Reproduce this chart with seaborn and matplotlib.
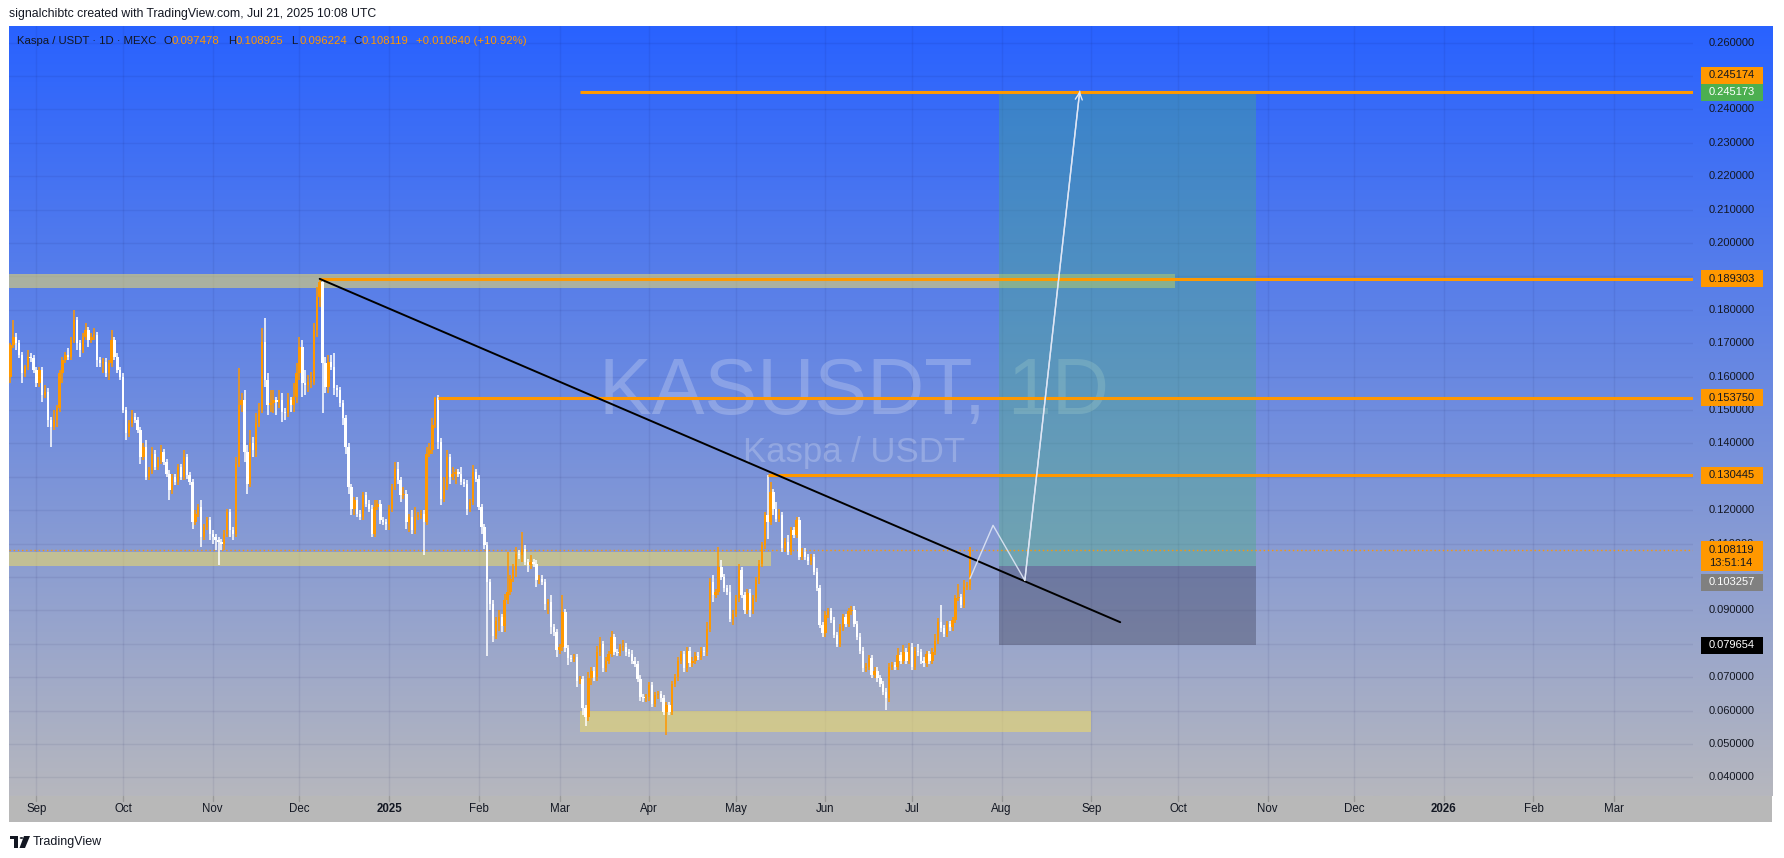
import numpy as np
import pandas as pd
import matplotlib
matplotlib.use("Agg")
import matplotlib.pyplot as plt
import matplotlib.dates as mdates
from matplotlib.patches import Rectangle, Polygon, Circle
import seaborn as sns


# Velas diarias KAS/USDT (MEXC), cierre por dia
start_day = "2024-08-23"
first_open = 0.1600

close_aug = [0.1695, 0.1720, 0.1700, 0.1665, 0.1610, 0.1630, 0.1660, 0.1655, 0.1620]
close_sep = [0.1580, 0.1620, 0.1545, 0.1555, 0.1470, 0.1450, 0.1470, 0.1505, 0.1610, 0.1650,
             0.1665, 0.1660, 0.1710, 0.1770, 0.1700, 0.1680, 0.1720, 0.1740, 0.1710, 0.1720,
             0.1725, 0.1650, 0.1640, 0.1645, 0.1610, 0.1640, 0.1710, 0.1660, 0.1620, 0.1600]
close_oct = [0.1500, 0.1430, 0.1460, 0.1480, 0.1470, 0.1440, 0.1360, 0.1390, 0.1300, 0.1320,
             0.1370, 0.1330, 0.1350, 0.1375, 0.1345, 0.1310, 0.1260, 0.1300, 0.1285, 0.1330,
             0.1300, 0.1360, 0.1305, 0.1285, 0.1165, 0.1190, 0.1210, 0.1120, 0.1150, 0.1170,
             0.1130]
close_nov = [0.1120, 0.1110, 0.1105, 0.1100, 0.1130, 0.1195, 0.1140, 0.1130, 0.1340, 0.1515,
             0.1530, 0.1375, 0.1280, 0.1400, 0.1380, 0.1460, 0.1500, 0.1705, 0.1590, 0.1515,
             0.1520, 0.1530, 0.1525, 0.1530, 0.1495, 0.1490, 0.1530, 0.1515, 0.1540, 0.1610]
close_dec = [0.1690, 0.1580, 0.1575, 0.1585, 0.1585, 0.1740, 0.1840, 0.1885, 0.1640, 0.1570,
             0.1645, 0.1630, 0.1565, 0.1560, 0.1520, 0.1475, 0.1390, 0.1270, 0.1205, 0.1230,
             0.1190, 0.1180, 0.1245, 0.1220, 0.1205, 0.1130, 0.1210, 0.1220, 0.1170, 0.1165,
             0.1160]
close_jan = [0.1205, 0.1270, 0.1325, 0.1290, 0.1245, 0.1250, 0.1165, 0.1180, 0.1140, 0.1180,
             0.1185, 0.1190, 0.1165, 0.1370, 0.1380, 0.1455, 0.1535, 0.1405, 0.1235, 0.1270,
             0.1360, 0.1300, 0.1310, 0.1315, 0.1310, 0.1285, 0.1280, 0.1205, 0.1225, 0.1315,
             0.1295]
close_feb = [0.1210, 0.1150, 0.1095, 0.0985, 0.0920, 0.0825, 0.0870, 0.0880, 0.0855, 0.0930,
             0.0955, 0.0995, 0.1020, 0.1070, 0.1065, 0.1085, 0.1045, 0.1035, 0.1045, 0.1040,
             0.0990, 0.0995, 0.0985, 0.0920, 0.0925, 0.0850, 0.0835, 0.0781]
close_mar = [0.0790, 0.0895, 0.0787, 0.0757, 0.0755, 0.0760, 0.0690, 0.0695, 0.0607, 0.0580,
             0.0697, 0.0720, 0.0700, 0.0775, 0.0800, 0.0727, 0.0750, 0.0770, 0.0820, 0.0776,
             0.0773, 0.0790, 0.0792, 0.0775, 0.0771, 0.0750, 0.0740, 0.0696, 0.0640, 0.0637,
             0.0640]
close_apr = [0.0676, 0.0620, 0.0646, 0.0650, 0.0637, 0.0597, 0.0617, 0.0597, 0.0680, 0.0700,
             0.0750, 0.0770, 0.0727, 0.0780, 0.0742, 0.0750, 0.0765, 0.0762, 0.0780, 0.0775,
             0.0846, 0.0986, 0.0946, 0.0955, 0.1030, 0.1000, 0.0966, 0.0956, 0.0876, 0.0890]
close_may = [0.0936, 0.1020, 0.0946, 0.0900, 0.0953, 0.0900, 0.0936, 0.0990, 0.1040, 0.1095,
             0.1185, 0.1165, 0.1255, 0.1205, 0.1175, 0.1185, 0.1086, 0.1106, 0.1076, 0.1141,
             0.1126, 0.1170, 0.1060, 0.1076, 0.1060, 0.1047, 0.1060, 0.1016, 0.0967, 0.0857,
             0.0832]
close_jun = [0.0887, 0.0897, 0.0872, 0.0827, 0.0800, 0.0850, 0.0880, 0.0860, 0.0897, 0.0902,
             0.0860, 0.0822, 0.0780, 0.0727, 0.0732, 0.0757, 0.0707, 0.0720, 0.0697, 0.0680,
             0.0657, 0.0637, 0.0732, 0.0737, 0.0732, 0.0767, 0.0750, 0.0777, 0.0750, 0.0792]
close_jul = [0.0732, 0.0780, 0.0775, 0.0750, 0.0742, 0.0770, 0.0750, 0.0777, 0.0810, 0.0867,
             0.0847, 0.0830, 0.0860, 0.0850, 0.0872, 0.0937, 0.0940, 0.0917, 0.0970, 0.0975,
             0.108119]

# Mechas (milesimas de USDT): superior / inferior
up_aug = [0.5, 5, 1, 1, 1, 0.5, 2, 1, 1]
dn_aug = [2, 1, 2, 1, 3, 1, 1, 1, 1]
up_sep = [1, 1, 1, 2, 1, 1, 3, 1, 1, 1, 1, 2, 1, 3, 1, 1, 1, 2, 1, 1, 2, 1, 1, 1, 1, 1, 3, 1, 1, 1]
dn_sep = [1, 1, 2, 1, 2, 6, 1, 2, 1, 3, 1, 1, 1, 1, 2, 2, 1, 1, 2, 1, 1, 2, 1, 3, 1, 2, 1, 1, 1, 1]
up_oct = [1, 1, 1, 2, 1, 1, 1, 1, 2, 1, 2, 1, 1, 2, 1, 1, 1, 1, 1, 1, 1, 2, 1, 1, 1, 1, 1, 2, 1, 1, 1]
dn_oct = [1, 2, 1, 1, 1, 1, 2, 1, 1, 1, 1, 1, 1, 1, 1, 1, 3, 1, 1, 1, 1, 1, 1, 1, 2, 1, 1, 3, 1, 1, 2]
up_nov = [1, 1, 1, 1, 1, 1, 1, 1, 2, 11, 2, 3, 2, 4, 2, 3, 2, 4, 7, 2, 4, 3, 1, 3, 2, 1, 2, 1, 4, 3]
dn_nov = [2, 3, 7, 2, 2, 1, 2, 2, 1, 1, 2, 3, 3, 1, 2, 2, 1, 1, 2, 3, 2, 3, 4, 2, 3, 2, 1, 2, 2, 2]
up_dec = [3, 2, 4, 2, 3, 2, 3, 0.8, 0.5, 2, 2, 2, 4, 1, 1, 1, 1, 1, 1, 1, 1, 1, 1, 1, 1, 1, 2, 1, 1, 1, 1]
dn_dec = [2, 4, 3, 2, 2, 1, 2, 3, 15, 2, 2, 1, 2, 2, 1, 2, 2, 2, 2, 2, 1, 1, 1, 1, 1, 1, 1, 1, 1, 1, 2]
up_jan = [1, 1, 2, 2, 1, 2, 1, 1, 2, 3, 1, 1, 1, 2, 2, 2, 0.5, 1, 1, 3, 2, 1, 2, 1, 1, 2, 1, 1, 1, 2, 1]
dn_jan = [2, 1, 1, 1, 2, 1, 2, 3, 1, 1, 1, 1, 10, 1, 1, 1, 1, 2, 2, 1, 1, 2, 1, 3, 1, 1, 1, 2, 1, 1, 1]
up_feb = [1, 1, 1, 1, 1, 1, 1, 2, 1, 2, 12, 1, 2, 2, 1, 5, 1, 1, 2, 1, 1, 1, 1, 1, 1, 2, 1, 1]
dn_feb = [1, 2, 1, 22, 2, 2, 1, 3, 2, 2, 1, 1, 1, 2, 1, 2, 1, 2, 1, 1, 2, 1, 1, 2, 3, 2, 1, 2]
up_mar = [1, 5, 1, 1, 1, 1, 1, 1, 1, 1, 2, 1, 1, 2, 2, 1, 1, 1, 2, 1, 1, 1, 2, 1, 1, 1, 1, 1, 1, 1, 1]
dn_mar = [1, 1, 1, 2, 1, 1, 2, 1, 2, 2.5, 1, 2, 1, 1, 1, 1, 1, 1, 1, 1, 1, 1, 1, 1, 1, 1, 1, 1, 1, 1, 1]
up_apr = [1, 1, 1, 1, 1, 1, 1, 1, 1, 1, 1, 1, 1, 1, 1, 1, 1, 1, 1, 1, 2, 1, 2, 1, 6, 2, 1, 1, 2, 1]
dn_apr = [1, 1, 1, 1, 1, 1, 7, 1, 1, 1, 1, 1, 1, 1, 1, 1, 1, 1, 1, 1, 1, 1, 2, 1, 1, 1, 1, 1, 1, 2]
up_may = [1, 2, 1, 1, 1, 1, 1, 1, 1, 1, 1, 12, 3, 1, 2, 2, 1, 1, 2, 1, 1, 1, 1, 1, 1, 1, 1, 1, 1, 1, 1]
dn_may = [1, 1, 1, 1, 1, 2, 1, 1, 1, 1, 1, 5, 1, 2, 1, 1, 1, 1, 1, 1, 1, 1, 1, 1, 1, 1, 1, 1, 1, 1, 1]
up_jun = [1, 1, 1, 1, 1, 1, 1, 1, 1, 1, 1, 1, 1, 1, 1, 1, 1, 1, 1, 1, 1, 1, 1, 1, 1, 2, 1, 2, 1, 1]
dn_jun = [1, 1, 1, 1, 1, 1, 1, 1, 1, 1, 1, 1, 1, 1, 1, 1, 1, 1, 1, 1, 1, 3.5, 1, 1, 1, 1, 1, 1, 1, 1]
up_jul = [1, 1, 2, 1, 1, 1, 1, 1, 2, 1, 5, 1, 1, 1, 1, 1, 4, 1, 2, 1, 0.806]
dn_jul = [1, 1, 1, 1, 1, 1, 1, 1, 1, 1, 1, 1, 1, 1, 1, 1, 1, 1, 1, 1, 1.254]

# Zonas amarillas (soporte / resistencia)
zone_start = ["2024-08-15", "2024-08-15", "2025-03-08"]
zone_end = ["2025-09-30", "2025-05-13", "2025-09-01"]
zone_lo = [0.1866, 0.1033, 0.0537]
zone_hi = [0.1907, 0.1075, 0.0600]

# Niveles horizontales naranjas
level_price = [0.245174, 0.189303, 0.153750, 0.130445]
level_start = ["2025-03-08", "2024-12-08", "2025-01-18", "2025-05-12"]

# Posicion larga
pos_start, pos_end = "2025-07-31", "2025-10-28"
pos_target, pos_entry, pos_stop = 0.245173, 0.103257, 0.079654

# Linea de tendencia y proyeccion
trend_dates = ["2024-12-08", "2025-09-11"]
trend_prices = [0.1893, 0.0865]
path_dates = ["2025-07-21", "2025-07-29", "2025-08-09", "2025-08-28"]
path_prices = [0.0995, 0.1155, 0.0990, 0.2455]

last_price = 0.108119
countdown = "13:51:14"
header_vals = [("O", "0.097478"), ("H", "0.108925"), ("L", "0.096224"), ("C", "0.108119")]
header_change = "+0.010640 (+10.92%)"

# ---------------------------------------------------------------
closes = (close_aug + close_sep + close_oct + close_nov + close_dec + close_jan +
          close_feb + close_mar + close_apr + close_may + close_jun + close_jul)
ups = (up_aug + up_sep + up_oct + up_nov + up_dec + up_jan +
       up_feb + up_mar + up_apr + up_may + up_jun + up_jul)
dns = (dn_aug + dn_sep + dn_oct + dn_nov + dn_dec + dn_jan +
       dn_feb + dn_mar + dn_apr + dn_may + dn_jun + dn_jul)

df = pd.DataFrame({
    "date": pd.date_range(start_day, periods=len(closes), freq="D"),
    "open": [first_open] + closes[:-1],
    "close": closes,
})
df["top"] = df[["open", "close"]].max(axis=1)
df["bot"] = df[["open", "close"]].min(axis=1)
df["high"] = df["top"] + np.array(ups) * 0.001
df["low"] = df["bot"] - np.array(dns) * 0.001
df["x"] = mdates.date2num(df["date"])

sns.set_style("white")
plt.rcParams["font.family"] = ["Liberation Sans", "DejaVu Sans"]

ORANGE = "#FF9800"
INK = "#131722"
W, H = 1784, 858
fig = plt.figure(figsize=(W / 100, H / 100), dpi=100)
fig.patch.set_facecolor("white")

# fondo degradado (grafico + escala de precios)
bg = fig.add_axes([9 / W, 1 - 796 / H, (1772 - 9) / W, (796 - 26) / H], zorder=-2)
t = np.linspace(0, 1, 300)[:, None, None]
c_top = np.array([41, 98, 255]) / 255
c_bot = np.array([182, 183, 190]) / 255
bg.imshow(c_top * (1 - t) + c_bot * t, aspect="auto", extent=[0, 1, 0, 1])
bg.axis("off")

# franja del eje de tiempo
fig.add_artist(Rectangle((9 / W, 1 - 822 / H), (1772 - 9) / W, 26 / H,
                         transform=fig.transFigure, fc="#b8b8b8", ec="none", zorder=-1))

ax = fig.add_axes([9 / W, 1 - 796 / H, (1693 - 9) / W, (796 - 26) / H], zorder=1)
ax.patch.set_alpha(0)
jan1 = mdates.date2num(pd.Timestamp("2025-01-01"))
ax.set_xlim(jan1 - 131.5, jan1 + 451.2)
ax.set_ylim(0.03446, 0.2650)
ax.set_axis_off()

# rejilla
months = pd.date_range("2024-09-01", "2026-03-01", freq="MS")
for m in months:
    ax.axvline(mdates.date2num(m), color=(0.05, 0.05, 0.3), alpha=0.07, lw=1, zorder=1)
price_ticks = np.round(np.arange(0.04, 0.2601, 0.01), 2)
for p in price_ticks:
    ax.axhline(p, color=(0.05, 0.05, 0.3), alpha=0.07, lw=1, zorder=1)

# marca de agua
ax.text(0.502, 0.523, "KASUSDT, 1D", transform=ax.transAxes, ha="center", va="center",
        fontsize=57, color="white", alpha=0.22, zorder=1)
ax.text(0.502, 0.4455, "Kaspa / USDT", transform=ax.transAxes, ha="center", va="center",
        fontsize=25, color="white", alpha=0.22, zorder=1)

# zonas
for s, e, lo, hi in zip(zone_start, zone_end, zone_lo, zone_hi):
    xs, xe = mdates.date2num(pd.Timestamp(s)), mdates.date2num(pd.Timestamp(e))
    ax.add_patch(Rectangle((xs, lo), xe - xs, hi - lo, fc="#f0dc64", alpha=0.55, ec="none", zorder=2))

# herramienta de posicion larga
ps, pe = mdates.date2num(pd.Timestamp(pos_start)), mdates.date2num(pd.Timestamp(pos_end))
ax.add_patch(Rectangle((ps, pos_entry), pe - ps, pos_target - pos_entry,
                       fc="#45b07a", alpha=0.36, ec="none", zorder=2))
ax.add_patch(Rectangle((ps, pos_stop), pe - ps, pos_entry - pos_stop,
                       fc="#3a3c55", alpha=0.38, ec="none", zorder=2))

# linea punteada del precio actual
ax.axhline(last_price, color=ORANGE, lw=1, ls=(0, (1, 2)), zorder=3)

# velas
col = np.where(df["close"] >= df["open"], ORANGE, "#ffffff")
ax.vlines(df["x"], df["low"], df["high"], colors=col, lw=1.1, zorder=4)
ax.bar(df["x"], (df["top"] - df["bot"]).clip(lower=0.0003), bottom=df["bot"],
       width=0.82, color=col, lw=0, zorder=5)

# niveles
xmax = ax.get_xlim()[1]
for p, s in zip(level_price, level_start):
    ax.hlines(p, mdates.date2num(pd.Timestamp(s)), xmax, color=ORANGE, lw=2.2, zorder=6)

# tendencia y proyeccion
sns.lineplot(x=mdates.date2num(pd.to_datetime(trend_dates)), y=trend_prices, color="black",
             lw=1.4, ax=ax, estimator=None, sort=False, legend=False, zorder=7)
px = mdates.date2num(pd.to_datetime(path_dates))
sns.lineplot(x=px, y=path_prices, color="#dfe6f5", lw=1.0, alpha=0.9, ax=ax, estimator=None,
             sort=False, legend=False, zorder=7)
ax.annotate("", xy=(px[-1], path_prices[-1]), xytext=(px[-2], path_prices[-2]),
            arrowprops=dict(arrowstyle="->,head_length=0.5,head_width=0.25",
                            color="#dfe6f5", lw=1.0, shrinkA=0, shrinkB=0), zorder=7)

fig.canvas.draw()


def ypx(p):
    return ax.transData.transform((ax.get_xlim()[0], p))[1]


# escala de precios (0.100000 queda tapado por la etiqueta de entrada)
for p in price_ticks:
    if abs(p - 0.10) < 1e-9:
        continue
    fig.text(1709 / W, ypx(p) / H, f"{p:.6f}", fontsize=8, color=INK, va="center", ha="left", zorder=3)


def tag(p, txt, fc, tc, shift=0, sub=None):
    yc = ypx(p) + shift
    top = yc + 8.5
    bot = yc - 8.5 - (13 if sub else 0)
    fig.add_artist(Rectangle((1701 / W, bot / H), 62 / W, (top - bot) / H,
                             transform=fig.transFigure, fc=fc, ec="none", zorder=5))
    fig.text(1709 / W, yc / H, txt, fontsize=8, color=tc, va="center", ha="left", zorder=6)
    if sub:
        fig.text(1709 / W, (yc - 13.5) / H, sub, fontsize=8, color=tc, va="center", ha="left", zorder=6)


tag(level_price[0], f"{level_price[0]:.6f}", ORANGE, INK, shift=17)
tag(pos_target, f"{pos_target:.6f}", "#4caf50", "white")
for p in level_price[1:]:
    tag(p, f"{p:.6f}", ORANGE, INK)
tag(last_price, f"{last_price:.6f}", ORANGE, INK, sub=countdown)
tag(pos_entry, f"{pos_entry:.6f}", "#808080", "white", shift=-16)
tag(pos_stop, f"{pos_stop:.6f}", "black", "white")

# eje de tiempo
for m in months:
    xd = ax.transData.transform((mdates.date2num(m), 0.1))[0]
    lab = str(m.year) if m.month == 1 else m.strftime("%b")
    fig.text(xd / W, 1 - 809 / H, lab, fontsize=8.3, color=INK, ha="center", va="center",
             fontweight="bold" if m.month == 1 else "normal")
    fig.add_artist(plt.Line2D([xd / W, xd / W], [1 - 796 / H, 1 - 801 / H],
                              transform=fig.transFigure, color="#9a9a9a", lw=1))

# cabeceras
fig.text(9 / W, 1 - 14 / H, "signalchibtc created with TradingView.com, Jul 21, 2025 10:08 UTC",
         fontsize=8.8, color=INK, va="center", ha="left")
fig.text(17 / W, 1 - 41 / H, "Kaspa / USDT \u00b7 1D \u00b7 MEXC", fontsize=8.2, color=INK, va="center", zorder=3)
for (k, v), xk in zip(header_vals, [164, 228, 291, 353]):
    fig.text(xk / W, 1 - 41 / H, k, fontsize=8.2, color=INK, va="center", zorder=3)
    fig.text((xk + 8) / W, 1 - 41 / H, v, fontsize=8.2, color=ORANGE, va="center", zorder=3)
fig.text(416 / W, 1 - 41 / H, header_change, fontsize=8.2, color=ORANGE, va="center", zorder=3)

# pie con logo
fig.add_artist(Rectangle((10 / W, 1 - 839 / H), 8 / W, 3 / H, transform=fig.transFigure, fc=INK, ec="none"))
fig.add_artist(Rectangle((14 / W, 1 - 848 / H), 4 / W, 12 / H, transform=fig.transFigure, fc=INK, ec="none"))
fig.add_artist(Circle((21.5 / W, 1 - 838 / H), 1.8 / W, transform=fig.transFigure, fc=INK, ec="none"))
fig.add_artist(Polygon([[24 / W, 1 - 836 / H], [30 / W, 1 - 836 / H], [25 / W, 1 - 848 / H], [19.5 / W, 1 - 848 / H]],
                       closed=True, transform=fig.transFigure, fc=INK, ec="none"))
fig.text(33 / W, 1 - 842 / H, "TradingView", fontsize=9, color=INK, va="center", ha="left")

fig.savefig("out.png", dpi=100)
